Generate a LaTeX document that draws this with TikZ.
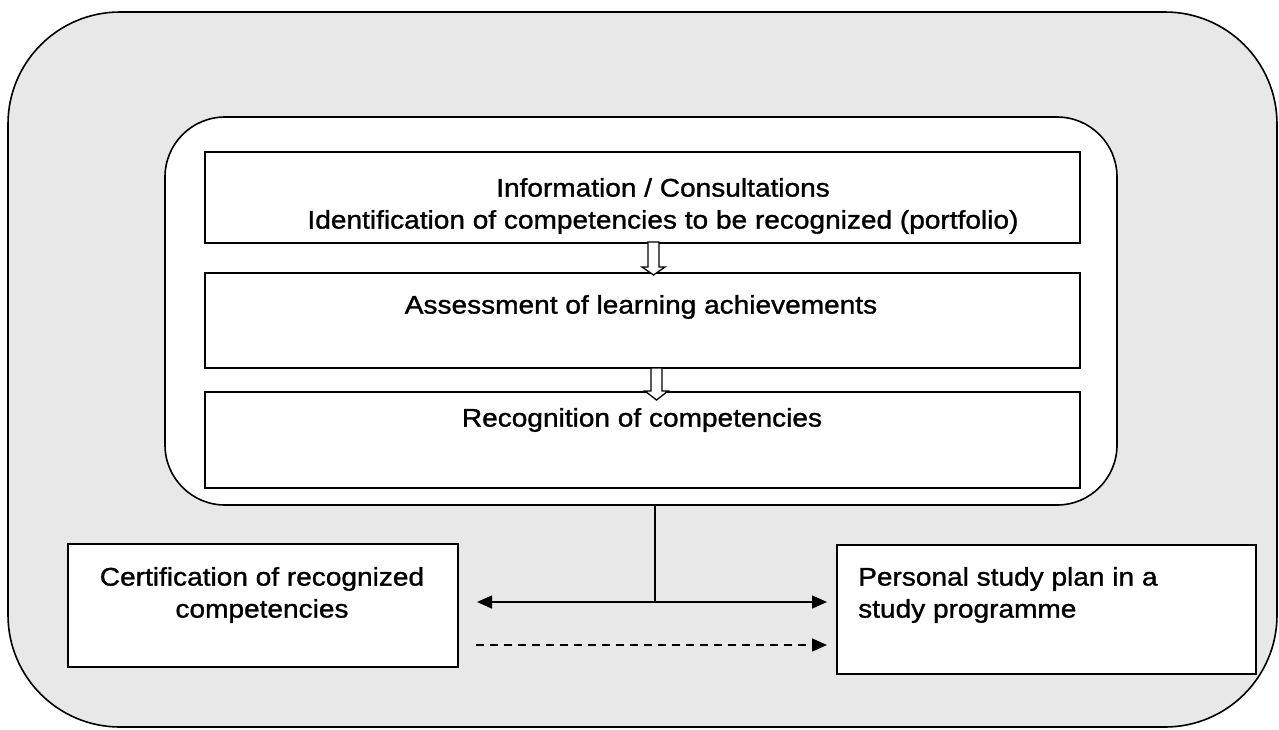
\documentclass[tikz,border=0pt]{standalone}
\usepackage{fontspec}
\setmainfont{Liberation Sans}[FakeStretch=1.1,FakeBold=1.2]
\usetikzlibrary{arrows.meta}
\definecolor{bggray}{HTML}{E8E8E8}
\tikzset{
  box/.style={draw, line width=1.6pt, fill=white},
  lbl/.style={font=\fontsize{25.5}{32}\selectfont, align=center, inner sep=0pt},
  conn/.style={line width=1.5pt, -{Triangle[length=15pt,width=13pt]}},
  hollow/.style={draw, line width=1.3pt, fill=white},
}
\begin{document}
\begin{tikzpicture}[x=1pt,y=-1pt]
\useasboundingbox (0,0) rectangle (1279,729);
% outer
\draw[line width=1.6pt, fill=bggray, rounded corners=112pt] (8,12) rectangle (1277,727);
% inner
\draw[line width=1.6pt, fill=white, rounded corners=60pt] (165,117) rectangle (1117,505);
% boxes
\node[box, minimum width=875pt, minimum height=91pt, anchor=north west, inner sep=0pt] (b1) at (204,151) {};
\node[box, minimum width=875pt, minimum height=95pt, anchor=north west, inner sep=0pt] (b2) at (204,272) {};
\node[box, minimum width=875pt, minimum height=96pt, anchor=north west, inner sep=0pt] (b3) at (204,391) {};
\node[box, minimum width=390pt, minimum height=123pt, anchor=north west, inner sep=0pt] (cert) at (67,543) {};
\node[box, minimum width=419pt, minimum height=129pt, anchor=north west, inner sep=0pt] (plan) at (836,544) {};
% texts
\node[lbl] (t1) at (663,206) {Information / Consultations\\Identification of competencies to be recognized (portfolio)};
\node[lbl] (t2) at (641,307) {Assessment of learning achievements};
\node[lbl] (t3) at (642,420) {Recognition of competencies};
\node[lbl] (t4) at (262,595) {Certification of recognized\\competencies};
\node[lbl, align=left, anchor=west] (t5) at (858,595) {Personal study plan in a\\study programme};
% hollow arrows
\draw[hollow] (648,242) -- (659,242) -- (659,267) -- (665,267) -- (653.5,275) -- (642,267) -- (648,267) -- cycle;
\draw[hollow] (651,368) -- (662,368) -- (662,391) -- (668,391) -- (656.5,400) -- (645,391) -- (651,391) -- cycle;
% connectors
\coordinate (top) at (655,505);
\coordinate (mid) at (655,602);
\coordinate (dl) at (476,645);
\draw[line width=1.5pt] (top) -- (mid);
\draw[conn] (mid) -- (477,602);
\draw[conn] (mid) -- (827,602);
\draw[conn, dashed, dash pattern=on 8pt off 6pt] (dl) -- (827,645);
\end{tikzpicture}
\end{document}
